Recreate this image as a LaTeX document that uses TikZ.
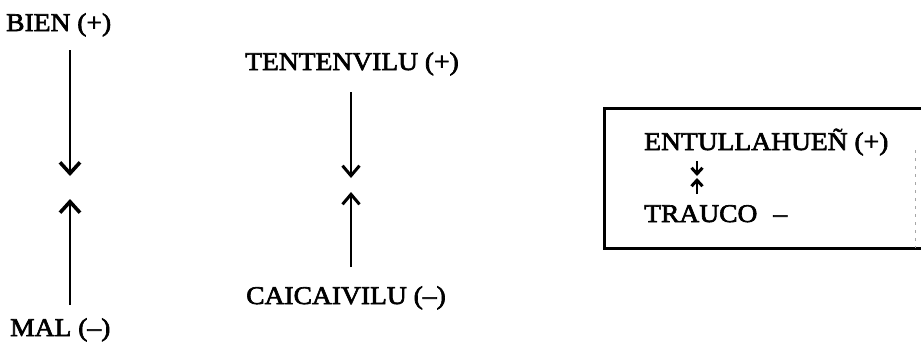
\documentclass[tikz,border=0pt]{standalone}
\usepackage{fontspec}
\setmainfont{Liberation Serif}[FakeStretch=1.08,FakeBold=2.5]
\usetikzlibrary{arrows.meta}
\begin{document}
\begin{tikzpicture}[x=1pt,y=-1pt,
  term/.style={inner sep=0pt,anchor=base west,font=\fontsize{25.5}{30}\selectfont},
  bigarrow/.style={line width=2.6pt,-{Straight Barb[length=11pt,width=20pt,line width=3.6pt]}},
  midarrow/.style={line width=1.9pt,-{Straight Barb[length=10pt,width=17pt,line width=3pt]}},
  tinyarrow/.style={line width=2.4pt,-{Straight Barb[length=6pt,width=11pt,line width=3pt]}},
  frame/.style={line width=3pt}]
\useasboundingbox (0,0) rectangle (921,346);

% left pair
\node[term] (bien) at (6,31) {BIEN (+)};
\node[term] (mal) at (10,336) {MAL (–)};
\coordinate (bienEnd) at (70,50);
\coordinate (bienTip) at (70,176);
\coordinate (malTip) at (70,199);
\coordinate (malEnd) at (70,305);
\draw[bigarrow] (bienEnd) -- (bienTip);
\draw[bigarrow] (malEnd) -- (malTip);

% middle pair
\node[term] (tenten) at (245,70) {TENTENVILU (+)};
\node[term] (caicai) at (246,304) {CAICAIVILU (–)};
\coordinate (tentenEnd) at (351,92);
\coordinate (tentenTip) at (351,178);
\coordinate (caicaiTip) at (351,192);
\coordinate (caicaiEnd) at (351,267);
\draw[midarrow] (tentenEnd) -- (tentenTip);
\draw[midarrow] (caicaiEnd) -- (caicaiTip);

% framed pair
\coordinate (boxTL) at (604,108);
\coordinate (boxTR) at (921,108);
\coordinate (boxBL) at (604,248);
\coordinate (boxBR) at (921,248);
\draw[frame] (boxTR) -- (boxTL) -- (boxBL) -- (boxBR);
\draw[black!35,line width=0.8pt,dash pattern=on 3pt off 5pt] (915,150) -- (915,248);
\node[term] (entu) at (644,150) {ENTULLAHUEÑ (+)};
\node[term] (trauco) at (644,222) {TRAUCO\hspace{16pt}–};
\coordinate (entuEnd) at (697,161);
\coordinate (entuTip) at (697,176);
\coordinate (traucoTip) at (697,178);
\coordinate (traucoEnd) at (697,194);
\draw[tinyarrow] (entuEnd) -- (entuTip);
\draw[tinyarrow] (traucoEnd) -- (traucoTip);
\end{tikzpicture}
\end{document}
